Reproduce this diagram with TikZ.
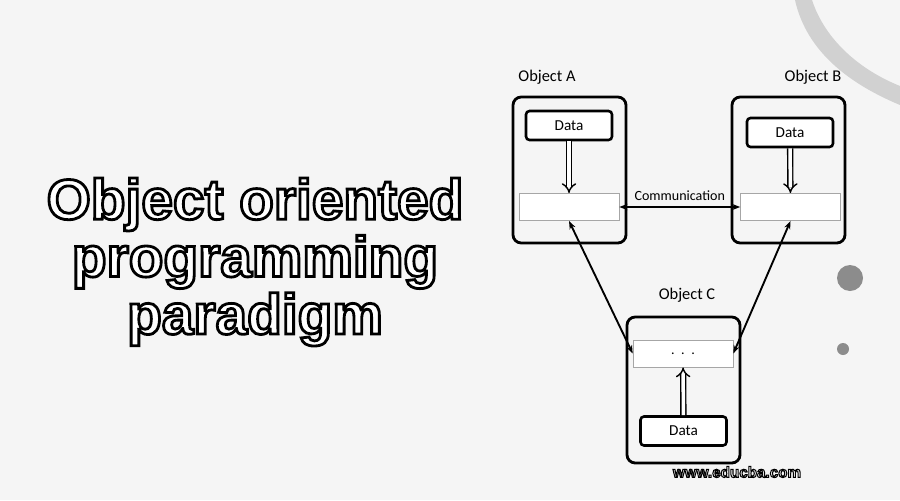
\documentclass[tikz,border=0pt]{standalone}
\usepackage{fontspec}
\setmainfont{Carlito}
\newfontfamily\titlefont{Liberation Sans}
\usetikzlibrary{arrows.meta}
\newcommand{\hollowtext}[2]{{\color{white}\special{pdf:literal direct 0 0 0 RG #1 w 2 Tr}#2\special{pdf:literal direct 0 Tr}}}
\begin{document}
\begin{tikzpicture}[x=0.03cm, y=-0.03cm,
    objbox/.style={draw, line width=2.4pt, rounded corners=7pt, minimum width=3.39cm, minimum height=4.38cm},
    databox/.style={draw, line width=2.2pt, rounded corners=3pt, fill=white, minimum width=2.58cm, minimum height=0.87cm, font=\fontsize{13}{15}\selectfont},
    msgbox/.style={draw=black!35, line width=0.5pt, fill=white, minimum width=3.0cm, minimum height=0.82cm, font=\fontsize{12}{14}\selectfont},
    objlabel/.style={font=\fontsize{14}{16}\selectfont},
    feed/.style={draw, line width=1.2pt, double=white, double distance=3pt, -{Implies}},
    link/.style={draw, line width=1.6pt, {Stealth[length=7pt]}-{Stealth[length=7pt]}}]
    \useasboundingbox[fill=black!4] (0,0) rectangle (900,500);

    \fill[black!45] (850,278) circle (13);
    \fill[black!45] (843,349) circle (6);
    \fill[black!18] (795,0) .. controls (805,45) and (840,80) .. (900,105) -- (900,86) .. controls (860,70) and (825,40) .. (812,0) -- cycle;

    \node[font=\titlefont\bfseries\fontsize{48.5}{49}\selectfont, align=center] (title) at (255,262)
      {\hollowtext{2.4}{Object oriented}\\ \hollowtext{2.4}{programming}\\ \hollowtext{2.4}{paradigm}};

    \node[objbox] (objA) at (569.5,170) {};
    \node[objbox] (objB) at (788.5,170) {};
    \node[objbox] (objC) at (683.5,390) {};
    \node[objlabel] (labA) at (547,77) {Object A};
    \node[objlabel] (labB) at (813,77) {Object B};
    \node[objlabel] (labC) at (687,295) {Object C};

    \node[databox] (dataA) at (569,125.5) {Data};
    \node[databox] (dataB) at (790,132.5) {Data};
    \node[databox] (dataC) at (683.5,431) {Data};
    \node[msgbox] (msgA) at (569,207) {};
    \node[msgbox] (msgB) at (790.5,207) {};
    \node[msgbox] (msgC) at (683,353.5) {. \,. \,.};

    \draw[feed] (dataA) -- (msgA);
    \draw[feed] (dataB) -- (msgB);
    \draw[feed] (dataC) -- (msgC);

    \draw[link] (msgA) -- node[above=1pt, font=\fontsize{12}{14}\selectfont] (comm) {Communication} (msgB);
    \draw[link] (msgA.south) -- (msgC.west);
    \draw[link] (msgB.south) -- (msgC.east);

    \node[font=\titlefont\bfseries\fontsize{13}{15}\selectfont] (site) at (737,472)
      {\hollowtext{0.9}{www.educba.com}};
  \end{tikzpicture}
\end{document}
